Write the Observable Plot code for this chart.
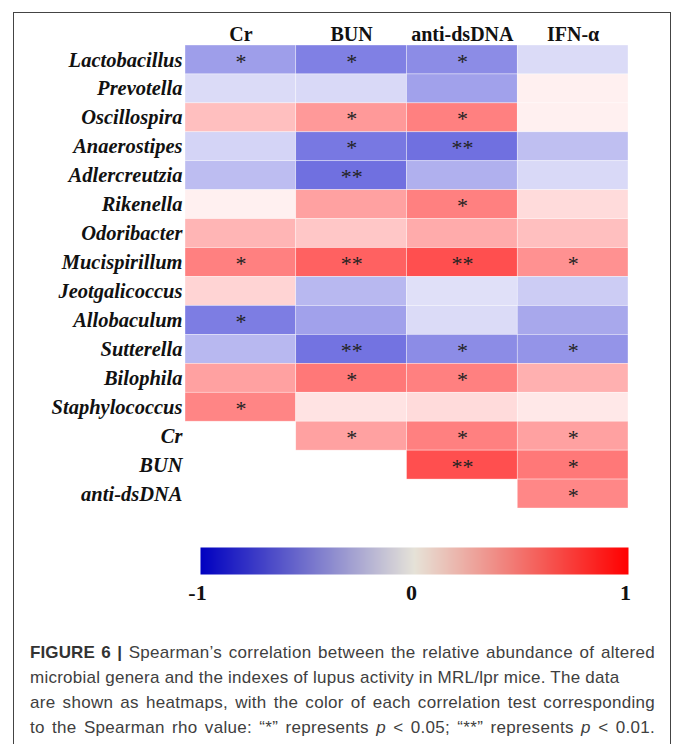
<!DOCTYPE html>
<html>
<head>
<meta charset="utf-8">
<script src="https://cdn.jsdelivr.net/npm/d3@7"></script>
<script src="https://cdn.jsdelivr.net/npm/@observablehq/plot@0.6"></script>
<style>
  body { margin: 0; background: #fff; width: 673px; height: 744px; overflow: hidden; position: relative; }
  #box { position: absolute; left: 13px; top: 12px; width: 658px; height: 760px; border: 1.5px solid #444; box-sizing: border-box; }
  #heat { position: absolute; left: 0; top: 0; }
  #bar { position: absolute; left: 0; top: 530px; }
  #caption { position: absolute; left: 30px; top: 640px; font-family: "Liberation Sans", Arial, sans-serif; font-size: 17px; letter-spacing: 0.3px; line-height: 25px; color: #404040; white-space: nowrap; }
  #caption .ln { display: block; width: 625px; text-align: justify; text-align-last: justify; }
  #caption .ln.short { text-align: left; text-align-last: left; letter-spacing: 0.25px; }
  #caption b { color: #333; letter-spacing: 0.1px; }
  [aria-label="y-axis tick label"] text { font-style: italic; }
</style>
</head>
<body>
<div id="box"></div>
<div id="heat"></div>
<div id="bar"></div>
<div id="caption">
<span class="ln"><b>FIGURE 6 |</b> Spearman’s correlation between the relative abundance of altered</span>
<span class="ln short">microbial genera and the indexes of lupus activity in MRL/lpr mice. The data</span>
<span class="ln">are shown as heatmaps, with the color of each correlation test corresponding</span>
<span class="ln">to the Spearman rho value: “*” represents <i>p</i> &lt; 0.05; “**” represents <i>p</i> &lt; 0.01.</span>
</div>
<script>
const rows = ["Lactobacillus","Prevotella","Oscillospira","Anaerostipes","Adlercreutzia","Rikenella","Odoribacter","Mucispirillum","Jeotgalicoccus","Allobaculum","Sutterella","Bilophila","Staphylococcus","Cr","BUN","anti-dsDNA"];
const cols = ["Cr","BUN","anti-dsDNA","IFN-α"];

const crValues   = [-0.38,-0.14,0.25,-0.17,-0.26,0.06,0.29,0.50,0.17,-0.51,-0.28,0.37,0.48,null,null,null];
const bunValues  = [-0.50,-0.15,0.40,-0.53,-0.56,0.37,0.22,0.62,-0.28,-0.37,-0.55,0.53,0.11,0.37,null,null];
const dsdnaValues= [-0.45,-0.37,0.50,-0.56,-0.31,0.50,0.33,0.69,-0.12,-0.14,-0.45,0.50,0.14,0.50,0.69,null];
const ifnValues  = [-0.14,0.06,0.06,-0.25,-0.15,0.14,0.25,0.43,-0.20,-0.34,-0.42,0.31,0.09,0.37,0.53,0.47];

const crSig    = ["*","","","","","","","*","","*","","","*","","",""];
const bunSig   = ["*","","*","*","**","","","**","","","**","*","","*","",""];
const dsdnaSig = ["*","","*","**","","*","","**","","","*","*","","*","**",""];
const ifnSig   = ["","","","","","","","*","","","*","","","*","*","*"];

const colorbarTicks = [-1, 0, 1];

const valueCols = [crValues, bunValues, dsdnaValues, ifnValues];
const sigCols = [crSig, bunSig, dsdnaSig, ifnSig];
const cells = [];
cols.forEach((c, j) => rows.forEach((r, i) => {
  const v = valueCols[j][i];
  if (v !== null) cells.push({row: r, col: c, value: v, sig: sigCols[j][i]});
}));

const serif = "'Liberation Serif', 'Times New Roman', serif";

const heat = Plot.plot({
  width: 673, height: 520,
  marginLeft: 185, marginRight: 45, marginTop: 45, marginBottom: 12,
  style: {fontFamily: serif, color: "#111", background: "transparent"},
  x: {domain: cols, padding: 0, round: false, label: null},
  y: {domain: rows, padding: 0, round: false, label: null},
  color: {type: "linear", domain: [-1, 0, 1], range: ["#0000c8", "#ffffff", "#ff0000"], interpolate: "rgb"},
  marks: [
    Plot.cell(cells, {x: "col", y: "row", fill: "value", stroke: "white", strokeWidth: 0.6, strokeOpacity: 0.6}),
    Plot.text(cells.filter(d => d.sig), {x: "col", y: "row", text: "sig", fontSize: 22, dy: 1.5, fill: "#222", fontFamily: serif}),
    Plot.axisX({anchor: "top", tickSize: 0, tickPadding: 5, fontSize: 20, fontWeight: "bold", label: null}),
    Plot.axisY({anchor: "left", tickSize: 0, tickPadding: 3, fontSize: 20.5, fontWeight: "bold", fontStyle: "italic", label: null})
  ]
});
document.getElementById("heat").appendChild(heat);

const bar = Plot.plot({
  width: 673, height: 78,
  marginLeft: 200, marginRight: 45, marginTop: 17, marginBottom: 34,
  style: {fontFamily: serif, color: "#111", background: "transparent"},
  x: {domain: [-1, 1], label: null},
  y: {domain: [0, 1], axis: null},
  color: {type: "linear", domain: [-1, 0, 1], range: ["#0000c0", "#e6e3d8", "#ff0000"], interpolate: "rgb"},
  marks: [
    Plot.raster({x1: -1, x2: 1, y1: 0, y2: 1, width: 428, height: 1, fill: (x, y) => x, imageRendering: "auto"}),
    Plot.axisX({anchor: "bottom", ticks: colorbarTicks, tickFormat: d => String(d), tickSize: 0, tickPadding: 10, dx: -3, fontSize: 22, fontWeight: "bold", label: null})
  ]
});
document.getElementById("bar").appendChild(bar);
</script>
</body>
</html>
